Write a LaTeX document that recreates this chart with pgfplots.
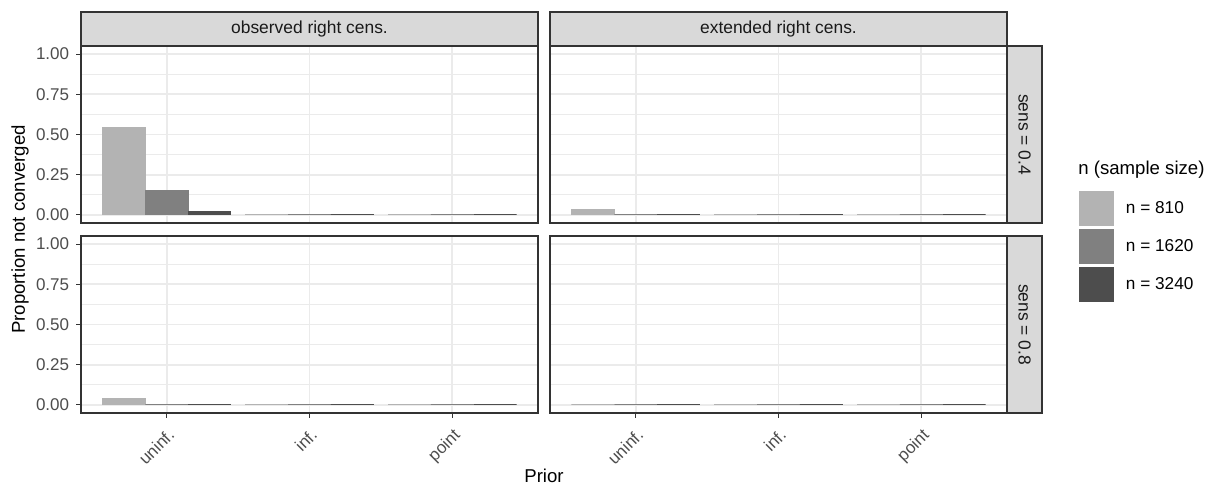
\documentclass[border=0pt]{standalone}
\usepackage{fontspec}
\setmainfont{Liberation Sans}
\usepackage{pgfplots}
\pgfplotsset{compat=1.18}
\definecolor{g20}{HTML}{333333}
\definecolor{g92}{HTML}{EBEBEB}
\definecolor{g85}{HTML}{D9D9D9}
\definecolor{g30}{HTML}{4D4D4D}
\definecolor{g10}{HTML}{1A1A1A}
\definecolor{cA}{HTML}{B3B3B3}
\definecolor{cB}{HTML}{808080}
\definecolor{cC}{HTML}{4D4D4D}
\pgfplotsset{
  panel/.style={
    scale only axis, width=228.5pt, height=88.5pt,
    xmin=0.4, xmax=3.6, ymin=-0.05, ymax=1.05,
    axis line style={draw=g20, line width=1pt},
    xtick={1,2,3}, ytick={0,0.25,0.5,0.75,1},
    minor ytick={0.125,0.375,0.625,0.875},
    xmajorgrids, ymajorgrids, yminorgrids,
    major grid style={draw=g92, line width=0.9pt},
    minor grid style={draw=g92, line width=0.5pt},
    tick align=outside, major tick length=2.4pt, minor tick length=0pt,
    tick style={draw=g20, line width=0.5pt},
    xtick pos=bottom, ytick pos=left,
    ticklabel style={font=\fontsize{8.5}{10}\selectfont, text=g30},
    xticklabels={uninf.,inf.,point},
    yticklabels={0.00,0.25,0.50,0.75,1.00},
    xticklabel style={rotate=45, anchor=north east},
    ybar, bar width=0.3,
  },
  noxt/.style={xticklabels={}, xtick style={draw=none}},
  noyt/.style={yticklabels={}, ytick style={draw=none}},
  s1/.style={fill=cA, draw=cA, line width=0.5pt, bar shift=-0.3},
  s2/.style={fill=cB, draw=cB, line width=0.5pt, bar shift=0},
  s3/.style={fill=cC, draw=cC, line width=0.5pt, bar shift=0.3},
}
\begin{document}
\begin{tikzpicture}
\useasboundingbox (0,0) rectangle (604.5pt,243.5pt);
% top-left: observed right cens., sens = 0.4
\begin{axis}[panel, noxt, at={(40.5pt,132pt)}, anchor=south west]
\addplot[s1] coordinates {(1,0.543) (2,0.004) (3,0)};
\addplot[s2] coordinates {(1,0.149) (2,0) (3,0)};
\addplot[s3] coordinates {(1,0.019) (2,0) (3,0)};
\end{axis}
% top-right: extended right cens., sens = 0.4
\begin{axis}[panel, noxt, noyt, at={(275pt,132pt)}, anchor=south west,
  legend style={at={(axis description cs:1.1575,0.1808)}, anchor=north west,
    draw=none, fill=none, inner sep=0pt, outer sep=0pt, row sep=1.5pt,
    column sep=6pt, font=\fontsize{8.6}{10}\selectfont,
    nodes={inner sep=0pt}},
  legend cell align=left,
  legend image code/.code={\fill[#1] (0pt,-8.5pt) rectangle (17pt,8.5pt);},
]
\addplot[s1] coordinates {(1,0.035) (2,0) (3,0)};
\addplot[s2] coordinates {(1,0) (2,0) (3,0)};
\addplot[s3] coordinates {(1,0) (2,0) (3,0)};
\legend{n = 810, n = 1620, n = 3240}
\end{axis}
% bottom-left: observed right cens., sens = 0.8
\begin{axis}[panel, at={(40.5pt,37pt)}, anchor=south west]
\addplot[s1] coordinates {(1,0.041) (2,0) (3,0)};
\addplot[s2] coordinates {(1,0) (2,0) (3,0)};
\addplot[s3] coordinates {(1,0) (2,0) (3,0)};
\end{axis}
% bottom-right: extended right cens., sens = 0.8
\begin{axis}[panel, noyt, at={(275pt,37pt)}, anchor=south west]
\addplot[s1] coordinates {(1,0) (2,0) (3,0)};
\addplot[s2] coordinates {(1,0) (2,0) (3,0)};
\addplot[s3] coordinates {(1,0) (2,0) (3,0)};
\end{axis}
% strips
\draw[fill=g85, draw=g20, line width=1pt] (40.5pt,220.5pt) rectangle (269pt,237.5pt);
\draw[fill=g85, draw=g20, line width=1pt] (275pt,220.5pt) rectangle (503.5pt,237.5pt);
\draw[fill=g85, draw=g20, line width=1pt] (503.5pt,132pt) rectangle (521pt,220.5pt);
\draw[fill=g85, draw=g20, line width=1pt] (503.5pt,37pt) rectangle (521pt,125.5pt);
\node[font=\fontsize{8.7}{10}\selectfont, text=g10] at (154.75pt,229pt) {observed right cens.};
\node[font=\fontsize{8.7}{10}\selectfont, text=g10] at (389.25pt,229pt) {extended right cens.};
\node[rotate=-90, font=\fontsize{8.7}{10}\selectfont, text=g10] at (512.25pt,176.25pt) {sens = 0.4};
\node[rotate=-90, font=\fontsize{8.7}{10}\selectfont, text=g10] at (512.25pt,81.25pt) {sens = 0.8};
% titles
\node[rotate=90, font=\fontsize{9.3}{11}\selectfont] at (10pt,128.75pt) {Proportion not converged};
\node[font=\fontsize{9.3}{11}\selectfont] at (272pt,5.5pt) {Prior};
\node[anchor=west, font=\fontsize{9.3}{11}\selectfont, inner sep=0pt] at (539pt,158.5pt) {n (sample size)};
\end{tikzpicture}
\end{document}
